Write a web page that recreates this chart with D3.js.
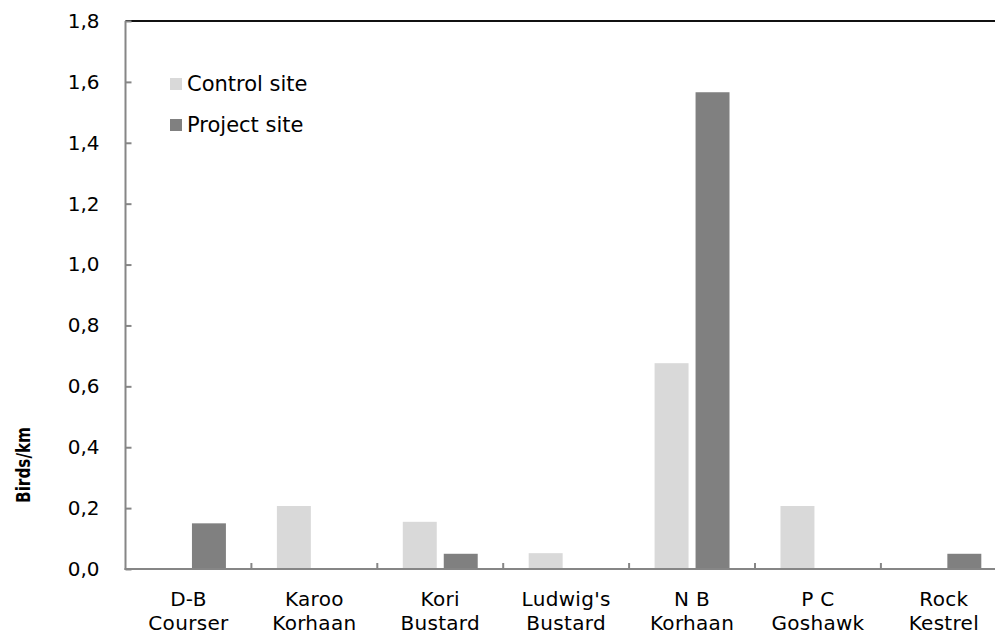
<!DOCTYPE html>
<html>
<head>
<meta charset="utf-8">
<script src="https://cdn.jsdelivr.net/npm/d3@7"></script>
<style>
  html, body { margin: 0; padding: 0; background: #fff; }
  svg { display: block; }
</style>
</head>
<body>
<svg id="chart" width="995" height="634"></svg>
<script>
// ---- data ----
const categories = ["D-B Courser", "Karoo Korhaan", "Kori Bustard", "Ludwig's Bustard", "N B Korhaan", "P C Goshawk", "Rock Kestrel"];
const categoryLines = [["D-B", "Courser"], ["Karoo", "Korhaan"], ["Kori", "Bustard"], ["Ludwig's", "Bustard"], ["N B", "Korhaan"], ["P C", "Goshawk"], ["Rock", "Kestrel"]];
const seriesNames = ["Control site", "Project site"];
const controlValues = [0, 0.207, 0.155, 0.052, 0.676, 0.207, 0];
const projectValues = [0.150, 0, 0.050, 0, 1.566, 0, 0.050];
const yTicks = [0, 0.2, 0.4, 0.6, 0.8, 1.0, 1.2, 1.4, 1.6, 1.8];
const yTickLabels = ["0,0", "0,2", "0,4", "0,6", "0,8", "1,0", "1,2", "1,4", "1,6", "1,8"];
const yTitle = "Birds/km";
const colors = ["#d9d9d9", "#808080"];

// ---- layout ----
const svg = d3.select("#chart");
const mLeft = 125.5, mTop = 21, mBottom = 569;
const step = 125.9;
const mRight = mLeft + step * categories.length;
const axisColor = "#868686";
const font = "'DejaVu Sans', Verdana, sans-serif";

const x0 = d3.scaleBand().domain(categories).range([mLeft, mRight]).padding(0);
const x1 = d3.scaleBand().domain(seriesNames).range([0, x0.bandwidth()])
  .paddingInner(0.171).paddingOuter(0.622);
const y = d3.scaleLinear().domain([0, 1.8]).range([mBottom, mTop]);

const rows = categories.map((c, i) => ({ cat: c, vals: [controlValues[i], projectValues[i]] }));

// bars
const g = svg.append("g");
rows.forEach(r => {
  r.vals.forEach((v, j) => {
    if (v <= 0) return;
    g.append("rect")
      .attr("x", x0(r.cat) + x1(seriesNames[j]))
      .attr("y", y(v))
      .attr("width", x1.bandwidth())
      .attr("height", y(0) - y(v))
      .attr("fill", colors[j]);
  });
});

// top border line
svg.append("line").attr("x1", mLeft).attr("x2", 995).attr("y1", mTop).attr("y2", mTop)
  .attr("stroke", "#111").attr("stroke-width", 2);

// left axis
const yAxis = d3.axisLeft(y).tickValues(yTicks).tickSize(-6).tickPadding(26)
  .tickFormat((d, i) => yTickLabels[i]);
const ya = svg.append("g").attr("transform", `translate(${mLeft},0)`).call(yAxis);
ya.select(".domain").remove();
ya.selectAll(".tick line").attr("stroke", axisColor).attr("stroke-width", 2);
ya.selectAll(".tick text").attr("font-family", font).attr("font-size", 20).attr("fill", "#000");
svg.append("line").attr("x1", mLeft).attr("x2", mLeft).attr("y1", mTop).attr("y2", mBottom + 1)
  .attr("stroke", axisColor).attr("stroke-width", 2);

// bottom axis
svg.append("line").attr("x1", mLeft - 1).attr("x2", 995).attr("y1", mBottom).attr("y2", mBottom)
  .attr("stroke", axisColor).attr("stroke-width", 2);
categories.forEach((c, i) => {
  if (i === 0) return;
  svg.append("line").attr("x1", x0(c)).attr("x2", x0(c)).attr("y1", mBottom).attr("y2", mBottom - 6)
    .attr("stroke", axisColor).attr("stroke-width", 2);
});
categories.forEach((c, i) => {
  const t = svg.append("text").attr("text-anchor", "middle")
    .attr("font-family", font).attr("font-size", 20).attr("letter-spacing", 0.3).attr("fill", "#000");
  categoryLines[i].forEach((ln, k) => {
    t.append("tspan").attr("x", x0(c) + x0.bandwidth() / 2).attr("y", 606 + k * 23.5).text(ln);
  });
});

// y title
svg.append("text")
  .attr("transform", "translate(30,503) rotate(-90)")
  .attr("text-anchor", "start")
  .attr("font-family", font).attr("font-weight", "bold").attr("font-size", 20)
  .attr("textLength", 76).attr("lengthAdjust", "spacingAndGlyphs")
  .attr("fill", "#000").text(yTitle);

// legend
const legend = svg.append("g");
seriesNames.forEach((s, i) => {
  const ly = 78 + i * 41;
  legend.append("rect").attr("x", 170).attr("y", ly).attr("width", 12).attr("height", 12).attr("fill", colors[i]);
  legend.append("text").attr("x", 187).attr("y", ly + 12.5)
    .attr("font-family", font).attr("font-size", 21).attr("fill", "#000").text(s);
});
</script>
</body>
</html>
